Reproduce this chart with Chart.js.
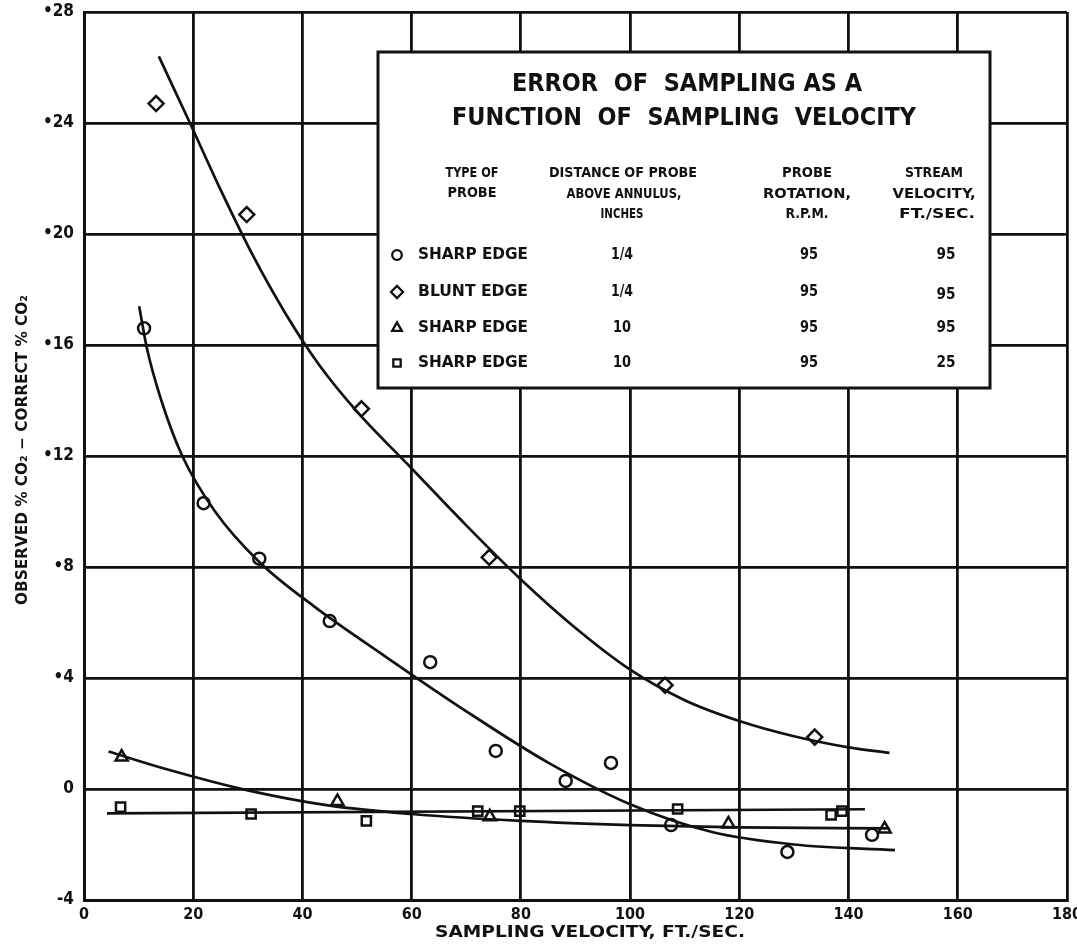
<!DOCTYPE html>
<html>
<head>
<meta charset="utf-8">
<title>Error of sampling as a function of sampling velocity</title>
<script src="https://cdn.jsdelivr.net/npm/chart.js@4/dist/chart.umd.min.js"></script>
<style>
  html, body { margin: 0; padding: 0; background: #fff; }
  canvas { display: block; }
</style>
</head>
<body>
<canvas id="chart" width="1077" height="944"></canvas>
<script>
// ---- Axis ticks ----
const xTickValues = [0, 20, 40, 60, 80, 100, 120, 140, 160, 180];
const xTickLabels = ['0', '20', '40', '60', '80', '100', '120', '140', '160', '180'];
const yTickValues = [-4, 0, 4, 8, 12, 16, 20, 24, 28];
const yTickLabels = ['-4', '0', '•4', '•8', '•12', '•16', '•20', '•24', '•28'];

// ---- Probe descriptions (legend table) ----
const probeTypes = ['SHARP EDGE', 'BLUNT EDGE', 'SHARP EDGE', 'SHARP EDGE'];
const probeHeights = ['1/4', '1/4', '10', '10'];
const probeRotations = ['95', '95', '95', '95'];
const streamVelocities = ['95', '95', '95', '25'];
const probeSymbols = ['circle', 'rectRot', 'triangle', 'rect'];

// ---- Measured points: sampling velocity (ft/sec) vs. error ----
const sharpQuarterX = [11.0, 21.9, 32.1, 45.0, 63.4, 75.4, 88.2, 96.5, 107.5, 128.8, 144.3];
const sharpQuarterY = [16.6, 10.3, 8.3, 6.05, 4.57, 1.37, 0.29, 0.94, -1.3, -2.27, -1.65];

const bluntQuarterX = [13.2, 29.8, 50.8, 74.2, 106.4, 133.8];
const bluntQuarterY = [24.7, 20.7, 13.7, 8.35, 3.74, 1.87];

const sharpTenX = [6.9, 46.4, 74.3, 118.0, 146.6];
const sharpTenY = [1.15, -0.45, -1.0, -1.26, -1.44];

const sharpTenSlowX = [6.7, 30.6, 51.7, 72.1, 79.8, 108.7, 136.8, 138.8];
const sharpTenSlowY = [-0.65, -0.9, -1.15, -0.8, -0.8, -0.72, -0.93, -0.8];

// ---- Faired curves ----
const bluntCurveX = [13.7, 19.4, 25, 31, 37, 43, 50, 60, 70, 80, 90, 100, 110, 120, 130, 140, 147.5];
const bluntCurveY = [26.4, 24.0, 21.6, 19.2, 17.1, 15.3, 13.6, 11.55, 9.5, 7.55, 5.8, 4.3, 3.2, 2.45, 1.9, 1.5, 1.3];

const sharpQuarterCurveX = [10.1, 11.5, 14.0, 18.0, 24, 32, 42, 55, 70, 85, 100, 115, 130, 148.5];
const sharpQuarterCurveY = [17.4, 15.9, 14.1, 12.0, 10.0, 8.2, 6.6, 4.8, 2.8, 0.95, -0.55, -1.55, -2.0, -2.2];

const sharpTenCurveX = [4.5, 15, 30, 45, 60, 80, 100, 120, 147.5];
const sharpTenCurveY = [1.35, 0.72, -0.05, -0.6, -0.9, -1.15, -1.3, -1.38, -1.42];

const sharpTenSlowCurveX = [4.2, 143];
const sharpTenSlowCurveY = [-0.88, -0.73];

// ---- Styling ----
const INK = '#111';
const FONT = '"DejaVu Sans Condensed", "Liberation Sans Narrow", "DejaVu Sans", sans-serif';
const markerSize = { circle: 6, rectRot: 7.5, triangle: 7, rect: 6.5 };

function zipXY(xs, ys) { return xs.map((x, i) => ({ x: x, y: ys[i] })); }

function curveDataset(xs, ys) {
  return {
    data: zipXY(xs, ys),
    showLine: true,
    borderColor: INK,
    borderWidth: 2.7,
    pointRadius: 0,
    cubicInterpolationMode: 'monotone',
    fill: false
  };
}

function markerDataset(xs, ys, style) {
  return {
    data: zipXY(xs, ys),
    showLine: false,
    pointStyle: style,
    pointRadius: markerSize[style],
    borderColor: INK,
    borderWidth: 2.5,
    backgroundColor: 'rgba(0,0,0,0)'
  };
}

// Draws a string centred (or aligned) at x,y, squeezed horizontally to a given width.
function fitText(ctx, str, x, y, width, font, align) {
  ctx.save();
  ctx.font = font;
  ctx.fillStyle = INK;
  ctx.textBaseline = 'middle';
  ctx.textAlign = align || 'center';
  const w = ctx.measureText(str).width;
  const sx = width ? width / w : 1;
  ctx.translate(x, y);
  ctx.scale(sx, 1);
  ctx.fillText(str, 0, 0);
  ctx.restore();
}

// Axis titles
const axisTitles = {
  id: 'axisTitles',
  afterDraw(chart) {
    const ctx = chart.ctx;
    fitText(ctx, 'SAMPLING VELOCITY, FT./SEC.', 590, 933, 310, 'bold 15px ' + FONT);
    ctx.save();
    ctx.translate(23, 450);
    ctx.rotate(-Math.PI / 2);
    fitText(ctx, 'OBSERVED % CO₂ − CORRECT % CO₂', 0, 0, 310, 'bold 15px ' + FONT);
    ctx.restore();
  }
};

// Framed title + probe table in the upper right of the plot
const legendBox = {
  id: 'legendBox',
  afterDatasetsDraw(chart) {
    const ctx = chart.ctx;
    const L = 378, T = 52, R = 990, B = 388;
    ctx.save();
    ctx.fillStyle = '#fff';
    ctx.fillRect(L, T, R - L, B - T);
    ctx.strokeStyle = INK;
    ctx.lineWidth = 3;
    ctx.strokeRect(L, T, R - L, B - T);
    ctx.restore();

    const titleFont = '600 25px ' + FONT;
    fitText(ctx, 'ERROR  OF  SAMPLING AS A', 687, 84, 350, titleFont);
    fitText(ctx, 'FUNCTION  OF  SAMPLING  VELOCITY', 684, 118, 464, titleFont);

    const hf = 'bold 14px ' + FONT;
    fitText(ctx, 'TYPE OF', 472, 173, 53, hf);
    fitText(ctx, 'PROBE', 472, 193, 49, hf);
    fitText(ctx, 'DISTANCE OF PROBE', 623, 173, 148, hf);
    fitText(ctx, 'ABOVE ANNULUS,', 624, 194, 115, hf);
    fitText(ctx, 'INCHES', 622, 214, 43, hf);
    fitText(ctx, 'PROBE', 807, 173, 50, hf);
    fitText(ctx, 'ROTATION,', 807, 194, 88, hf);
    fitText(ctx, 'R.P.M.', 807, 214, 43, hf);
    fitText(ctx, 'STREAM', 934, 173, 58, hf);
    fitText(ctx, 'VELOCITY,', 934, 194, 83, hf);
    fitText(ctx, 'FT./SEC.', 937, 214, 76, hf);

    const rf = 'bold 15px ' + FONT;
    const rowY = [255, 292, 328, 363];
    probeTypes.forEach((t, i) => {
      const y = rowY[i];
      const sym = probeSymbols[i];
      ctx.save();
      ctx.strokeStyle = INK;
      ctx.fillStyle = 'rgba(0,0,0,0)';
      ctx.lineWidth = 2.3;
      Chart.helpers.drawPoint(ctx, { pointStyle: sym, radius: markerSize[sym] * 0.8, borderWidth: 2.3, rotation: 0 }, 397, y);
      ctx.restore();
      fitText(ctx, t, 418, y, 110, rf, 'left');
      fitText(ctx, probeHeights[i], 622, y, probeHeights[i].length > 2 ? 22 : 18, rf);
      fitText(ctx, probeRotations[i], 809, y, 18, rf);
      fitText(ctx, streamVelocities[i], 946, y + (i === 1 ? 3 : 0), 19, rf);
    });
  }
};

new Chart(document.getElementById('chart'), {
  type: 'scatter',
  data: {
    datasets: [
      curveDataset(bluntCurveX, bluntCurveY),
      curveDataset(sharpQuarterCurveX, sharpQuarterCurveY),
      curveDataset(sharpTenCurveX, sharpTenCurveY),
      curveDataset(sharpTenSlowCurveX, sharpTenSlowCurveY),
      markerDataset(sharpQuarterX, sharpQuarterY, 'circle'),
      markerDataset(bluntQuarterX, bluntQuarterY, 'rectRot'),
      markerDataset(sharpTenX, sharpTenY, 'triangle'),
      markerDataset(sharpTenSlowX, sharpTenSlowY, 'rect')
    ]
  },
  options: {
    responsive: false,
    animation: false,
    devicePixelRatio: 1,
    layout: { padding: { top: 12, right: 8, left: 0, bottom: 0 } },
    plugins: { legend: { display: false }, tooltip: { enabled: false } },
    scales: {
      x: {
        type: 'linear',
        min: 0,
        max: 180,
        afterBuildTicks(s) { s.ticks = xTickValues.map(v => ({ value: v })); },
        afterFit(s) { s.height = 44; s.paddingLeft = 0; s.paddingRight = 0; },
        ticks: {
          callback: (v) => xTickLabels[xTickValues.indexOf(v)],
          color: INK,
          padding: 5,
          maxRotation: 0,
          font: { family: FONT, size: 16, weight: 'bold' }
        },
        grid: { color: INK, lineWidth: 2.8, drawTicks: false },
        border: { color: INK, width: 3 }
      },
      y: {
        type: 'linear',
        min: -4,
        max: 28,
        afterBuildTicks(s) { s.ticks = yTickValues.map(v => ({ value: v })); },
        afterFit(s) { s.width = 84; s.paddingTop = 0; s.paddingBottom = 0; },
        ticks: {
          callback: (v) => yTickLabels[yTickValues.indexOf(v)],
          color: INK,
          padding: 10,
          font: { family: FONT, size: 17, weight: 'bold' }
        },
        grid: { color: INK, lineWidth: 2.8, drawTicks: false },
        border: { color: INK, width: 3 }
      }
    }
  },
  plugins: [legendBox, axisTitles]
});
</script>
</body>
</html>
